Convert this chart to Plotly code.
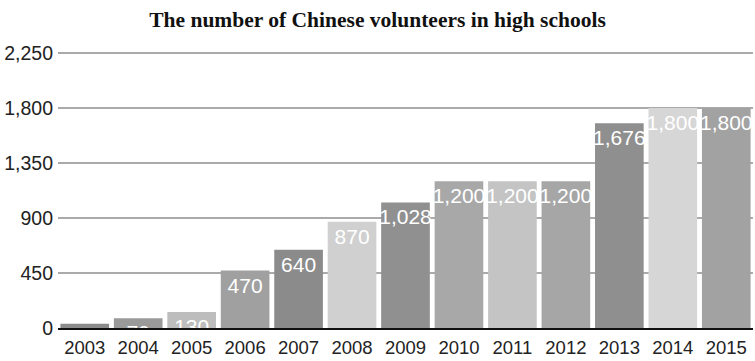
import plotly.graph_objects as go

years = ["2003", "2004", "2005", "2006", "2007", "2008", "2009",
         "2010", "2011", "2012", "2013", "2014", "2015"]
volunteers = [35, 79, 130, 470, 640, 870, 1028, 1200, 1200, 1200, 1676, 1800, 1800]
bar_colors = ["#8c8c8c", "#9a9a9a", "#bdbdbd", "#a0a0a0", "#8b8b8b", "#d0d0d0",
              "#909090", "#a8a8a8", "#c4c4c4", "#a6a6a6", "#8f8f8f", "#d6d6d6", "#a2a2a2"]
y_ticks = [0, 450, 900, 1350, 1800, 2250]
y_tick_labels = ["0", "450", "900", "1,350", "1,800", "2,250"]

fig = go.Figure(go.Bar(
    x=years,
    y=volunteers,
    marker=dict(color=bar_colors, line=dict(width=0)),
    text=[f"{v:,}" for v in volunteers],
    textposition="inside",
    insidetextanchor="end",
    textangle=0,
    textfont=dict(family="Liberation Sans, Arial", size=21, color="white"),
    cliponaxis=False,
))

fig.update_layout(
    width=755, height=361,
    margin=dict(l=58, r=2, t=50, b=33, autoexpand=False),
    paper_bgcolor="white",
    plot_bgcolor="white",
    bargap=0.09,
    uniformtext=dict(minsize=21, mode="show"),
    showlegend=False,
    title=dict(
        text="<b>The number of Chinese volunteers in high schools</b>",
        font=dict(family="Liberation Serif, Times New Roman", size=21.5, color="#111"),
        x=0.5, xanchor="center", y=0.945, yanchor="middle",
    ),
    font=dict(family="Liberation Sans, Arial", size=19, color="#222"),
)

fig.update_xaxes(
    showgrid=False,
    showline=True, linecolor="#111", linewidth=2,
    ticks="", tickfont=dict(size=18.5, color="#222"),
    ticklabelstandoff=2,
    automargin=False,
)
fig.update_yaxes(
    range=[0, 2275],
    tickvals=y_ticks, ticktext=y_tick_labels,
    showgrid=True, gridcolor="#aaaaaa", gridwidth=2,
    zeroline=False,
    ticks="", ticklen=0,
    tickfont=dict(size=19.5, color="#222"),
    ticklabelstandoff=4,
    automargin=False,
)

fig.write_html("out.html")
